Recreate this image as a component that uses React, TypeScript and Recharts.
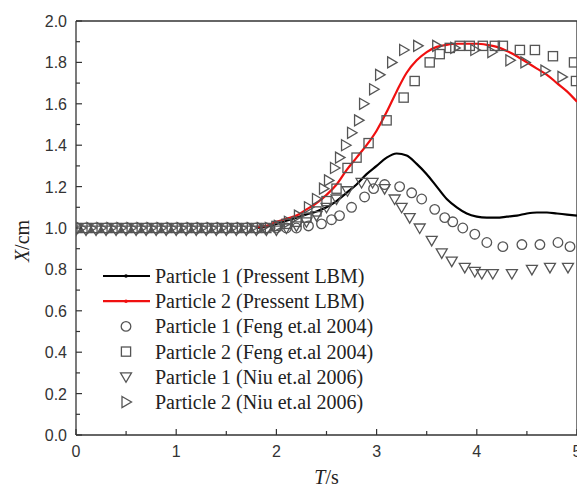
import React from 'react';
import { ComposedChart, Line, Scatter, XAxis, YAxis, Legend, ReferenceLine, Label } from 'recharts';

type Pt = [number, number];

// T (s), X (cm)
const lbmP1: Pt[] = [
  [1.8, 1.0], [1.9, 1.005], [2.0, 1.02], [2.1, 1.035], [2.2, 1.05], [2.3, 1.065], [2.4, 1.08],
  [2.5, 1.1], [2.6, 1.13], [2.7, 1.17], [2.8, 1.21], [2.9, 1.26], [3.0, 1.3], [3.1, 1.34],
  [3.2, 1.36], [3.3, 1.35], [3.4, 1.31], [3.5, 1.26], [3.6, 1.2], [3.7, 1.14], [3.8, 1.1],
  [3.9, 1.07], [4.0, 1.055], [4.1, 1.05], [4.2, 1.05], [4.3, 1.055], [4.4, 1.06], [4.5, 1.07],
  [4.6, 1.075], [4.7, 1.075], [4.8, 1.07], [4.9, 1.065], [5.0, 1.06],
];

const lbmP2: Pt[] = [
  [1.8, 1.005], [1.9, 1.01], [2.0, 1.03], [2.1, 1.045], [2.2, 1.06], [2.3, 1.09], [2.4, 1.12],
  [2.5, 1.16], [2.6, 1.21], [2.7, 1.28], [2.8, 1.34], [2.9, 1.4], [3.0, 1.47], [3.1, 1.56],
  [3.2, 1.66], [3.3, 1.75], [3.4, 1.81], [3.5, 1.85], [3.6, 1.875], [3.7, 1.885], [3.8, 1.89],
  [3.9, 1.89], [4.0, 1.89], [4.1, 1.885], [4.2, 1.875], [4.3, 1.855], [4.4, 1.83], [4.5, 1.8],
  [4.6, 1.77], [4.7, 1.74], [4.8, 1.7], [4.9, 1.66], [5.0, 1.61],
];

const fengP1: Pt[] = [
  [0, 1.0], [0.1, 1.0], [0.2, 1.0], [0.3, 1.0], [0.4, 1.0], [0.5, 1.0], [0.6, 1.0], [0.7, 1.0],
  [0.8, 1.0], [0.9, 1.0], [1.0, 1.0], [1.1, 1.0], [1.2, 1.0], [1.3, 1.0], [1.4, 1.0], [1.5, 1.0],
  [1.6, 1.0], [1.7, 1.0], [1.8, 1.0], [1.9, 1.0], [2.0, 1.0], [2.1, 1.0], [2.2, 1.0], [2.32, 1.01],
  [2.45, 1.02], [2.55, 1.04], [2.63, 1.06], [2.75, 1.1], [2.88, 1.15], [2.97, 1.19], [3.08, 1.21],
  [3.23, 1.2], [3.35, 1.17], [3.45, 1.14], [3.58, 1.09], [3.68, 1.05], [3.76, 1.03], [3.86, 1.0],
  [3.98, 0.97], [4.1, 0.93], [4.26, 0.91], [4.45, 0.92], [4.63, 0.92], [4.81, 0.93], [4.93, 0.91],
];

const fengP2: Pt[] = [
  [0, 1.0], [0.1, 1.0], [0.2, 1.0], [0.3, 1.0], [0.4, 1.0], [0.5, 1.0], [0.6, 1.0], [0.7, 1.0],
  [0.8, 1.0], [0.9, 1.0], [1.0, 1.0], [1.1, 1.0], [1.2, 1.0], [1.3, 1.0], [1.4, 1.0], [1.5, 1.0],
  [1.6, 1.0], [1.7, 1.0], [1.8, 1.0], [1.9, 1.0], [2.0, 1.01], [2.1, 1.02], [2.2, 1.03], [2.3, 1.05],
  [2.4, 1.08], [2.5, 1.13], [2.6, 1.19], [2.71, 1.29], [2.8, 1.34], [2.92, 1.41], [3.1, 1.52],
  [3.27, 1.63], [3.38, 1.71], [3.53, 1.8], [3.63, 1.84], [3.73, 1.87], [3.83, 1.88], [3.93, 1.88],
  [4.06, 1.88], [4.18, 1.88], [4.26, 1.88], [4.43, 1.86], [4.58, 1.86], [4.76, 1.83], [4.97, 1.8],
  [4.99, 1.71],
];

const niuP1: Pt[] = [
  [0, 0.99], [0.1, 0.99], [0.2, 0.99], [0.3, 0.99], [0.4, 0.99], [0.5, 0.99], [0.6, 0.99], [0.7, 0.99],
  [0.8, 0.99], [0.9, 0.99], [1.0, 0.99], [1.1, 0.99], [1.2, 0.99], [1.3, 0.99], [1.4, 0.99], [1.5, 0.99],
  [1.6, 0.99], [1.7, 0.99], [1.8, 0.99], [1.9, 0.99], [2.0, 0.99], [2.1, 1.0], [2.2, 1.01], [2.3, 1.03],
  [2.4, 1.06], [2.5, 1.1], [2.6, 1.14], [2.71, 1.18], [2.85, 1.22], [2.96, 1.22], [3.08, 1.19],
  [3.18, 1.14], [3.25, 1.1], [3.33, 1.05], [3.43, 1.0], [3.55, 0.94], [3.65, 0.88], [3.75, 0.84],
  [3.88, 0.81], [3.98, 0.79], [4.05, 0.78], [4.16, 0.78], [4.35, 0.78], [4.55, 0.8], [4.73, 0.81],
  [4.91, 0.81],
];

const niuP2: Pt[] = [
  [0.05, 1.0], [0.15, 1.0], [0.25, 1.0], [0.35, 1.0], [0.45, 1.0], [0.55, 1.0], [0.65, 1.0], [0.75, 1.0],
  [0.85, 1.0], [0.95, 1.0], [1.05, 1.0], [1.15, 1.0], [1.25, 1.0], [1.35, 1.0], [1.45, 1.0], [1.55, 1.0],
  [1.65, 1.0], [1.75, 1.0], [1.85, 1.0], [1.93, 1.0], [2.02, 1.01], [2.12, 1.03], [2.22, 1.06],
  [2.32, 1.1], [2.4, 1.14], [2.47, 1.19], [2.52, 1.23], [2.58, 1.29], [2.63, 1.34], [2.69, 1.4],
  [2.75, 1.46], [2.82, 1.52], [2.87, 1.6], [2.97, 1.67], [3.03, 1.74], [3.15, 1.8], [3.27, 1.86],
  [3.41, 1.88], [3.6, 1.88], [3.78, 1.87], [3.98, 1.86], [4.15, 1.85], [4.33, 1.81], [4.48, 1.8],
  [4.68, 1.76], [4.85, 1.73],
];

const xTicks = [0, 0.5, 1, 1.5, 2, 2.5, 3, 3.5, 4, 4.5, 5];
const yTicks = [0, 0.1, 0.2, 0.3, 0.4, 0.5, 0.6, 0.7, 0.8, 0.9, 1.0, 1.1, 1.2, 1.3, 1.4, 1.5, 1.6, 1.7, 1.8, 1.9, 2.0];

const legendNames = [
  'Particle 1 (Pressent LBM)',
  'Particle 2 (Pressent LBM)',
  'Particle 1 (Feng et.al 2004)',
  'Particle 2 (Feng et.al 2004)',
  'Particle 1 (Niu et.al 2006)',
  'Particle 2 (Niu et.al 2006)',
];

const AXIS = '#333';
const MARK = '#555';
const RED = '#f01010';
const SERIF = '"Liberation Serif", "Times New Roman", serif';
const SANS = '"Liberation Sans", Arial, sans-serif';

const toRows = (pts: Pt[]) => pts.map(([t, x]) => ({ t, x }));

type Kind = 'black' | 'red' | 'circle' | 'square' | 'down' | 'right';

const marker = (kind: Kind, cx: number, cy: number) => {
  const common = { fill: 'none', stroke: MARK, strokeWidth: 1.3 };
  if (kind === 'circle') return <circle cx={cx} cy={cy} r={4.8} {...common} />;
  if (kind === 'square') return <rect x={cx - 4.6} y={cy - 4.6} width={9.2} height={9.2} {...common} />;
  if (kind === 'down')
    return <path d={`M${cx - 5.5},${cy - 4} L${cx + 5.5},${cy - 4} L${cx},${cy + 5.5} Z`} {...common} />;
  return <path d={`M${cx - 4},${cy - 5.5} L${cx + 5.5},${cy} L${cx - 4},${cy + 5.5} Z`} {...common} />;
};

const shapeOf = (kind: Kind) => (p: any) => marker(kind, p.cx, p.cy);

const legendKinds: Kind[] = ['black', 'red', 'circle', 'square', 'down', 'right'];

const renderLegend = () => (
  <svg width={300} height={160}>
    {legendNames.map((name, i) => {
      const cy = 14 + i * 25.2;
      const kind = legendKinds[i];
      const isLine = kind === 'black' || kind === 'red';
      const col = kind === 'red' ? RED : '#000';
      return (
        <g key={name}>
          {isLine ? (
            <g>
              <line x1={3} x2={50} y1={cy} y2={cy} stroke={col} strokeWidth={2.2} />
              <circle cx={26} cy={cy} r={1.8} fill={col} />
            </g>
          ) : (
            marker(kind, 26, cy)
          )}
          <text x={55} y={cy + 7} fontFamily={SERIF} fontSize={20} fill="#222">
            {name}
          </text>
        </g>
      );
    })}
  </svg>
);

const YTick = (props: any) => {
  const { x, y, payload } = props;
  const v = payload.value as number;
  const major = Math.round(v * 10) % 2 === 0;
  return (
    <g>
      <line x1={x} x2={x + (major ? 6 : 4)} y1={y} y2={y} stroke={AXIS} strokeWidth={1.2} />
      {major && (
        <text x={x - 9} y={y + 6} textAnchor="end" fontFamily={SANS} fontSize={16} fill={AXIS}>
          {v.toFixed(1)}
        </text>
      )}
    </g>
  );
};

const XTick = (props: any) => {
  const { x, y, payload } = props;
  const v = payload.value as number;
  const major = Number.isInteger(v);
  return (
    <g>
      <line x1={x} x2={x} y1={y} y2={y - (major ? 6 : 4)} stroke={AXIS} strokeWidth={1.2} />
      {major && (
        <text x={x} y={y + 22} textAnchor="middle" fontFamily={SANS} fontSize={16} fill={AXIS}>
          {String(v)}
        </text>
      )}
    </g>
  );
};

const YTitle = (props: any) => {
  const vb = props.viewBox;
  const x = vb.x + 13;
  const y = vb.y + vb.height / 2 + 13;
  return (
    <text x={x} y={y} transform={`rotate(-90, ${x}, ${y})`} textAnchor="middle" fontFamily={SERIF} fontSize={20} fill="#222">
      <tspan fontStyle="italic">X</tspan>/cm
    </text>
  );
};

const XTitle = (props: any) => {
  const vb = props.viewBox;
  return (
    <text x={vb.x + vb.width / 2} y={vb.y + 49} textAnchor="middle" fontFamily={SERIF} fontSize={20} fill="#222">
      <tspan fontStyle="italic">T</tspan>/s
    </text>
  );
};

const App: React.FC = () => {
  return (
    <div style={{ position: 'absolute', left: 0, top: 0, width: 577, height: 492, overflow: 'hidden', background: '#fff' }}>
      <ComposedChart width={600} height={492} margin={{ top: 21, right: 23, bottom: 17, left: 16 }}>
        <XAxis
          type="number"
          dataKey="t"
          domain={[0, 5]}
          ticks={xTicks}
          interval={0}
          tickSize={0}
          tickMargin={0}
          tickLine={false}
          tick={XTick}
          height={40}
          axisLine={{ stroke: AXIS, strokeWidth: 1.3 }}
          allowDataOverflow
        >
          <Label content={XTitle} />
        </XAxis>
        <YAxis
          type="number"
          dataKey="x"
          domain={[0, 2]}
          ticks={yTicks}
          interval={0}
          tickSize={0}
          tickMargin={0}
          tickLine={false}
          tick={YTick}
          width={60}
          axisLine={{ stroke: AXIS, strokeWidth: 1.3 }}
          allowDataOverflow
        >
          <Label content={YTitle} />
        </YAxis>
        <ReferenceLine y={2} stroke={AXIS} strokeWidth={1.3} />
        <ReferenceLine x={5} stroke={AXIS} strokeWidth={1.3} />
        <Scatter name="Particle 1 (Feng et.al 2004)" data={toRows(fengP1)} dataKey="x" shape={shapeOf('circle')} isAnimationActive={false} />
        <Scatter name="Particle 2 (Feng et.al 2004)" data={toRows(fengP2)} dataKey="x" shape={shapeOf('square')} isAnimationActive={false} />
        <Scatter name="Particle 1 (Niu et.al 2006)" data={toRows(niuP1)} dataKey="x" shape={shapeOf('down')} isAnimationActive={false} />
        <Scatter name="Particle 2 (Niu et.al 2006)" data={toRows(niuP2)} dataKey="x" shape={shapeOf('right')} isAnimationActive={false} />
        <Line name="Particle 1 (Pressent LBM)" data={toRows(lbmP1)} dataKey="x" type="monotone" stroke="#000" strokeWidth={2.2} dot={false} activeDot={false} isAnimationActive={false} />
        <Line name="Particle 2 (Pressent LBM)" data={toRows(lbmP2)} dataKey="x" type="monotone" stroke={RED} strokeWidth={2.2} dot={false} activeDot={false} isAnimationActive={false} />
        <Legend
          layout="vertical"
          align="center"
          verticalAlign="middle"
          content={renderLegend}
          wrapperStyle={{ left: 100, top: 262, width: 300, height: 160 }}
        />
      </ComposedChart>
    </div>
  );
};

export default App;
